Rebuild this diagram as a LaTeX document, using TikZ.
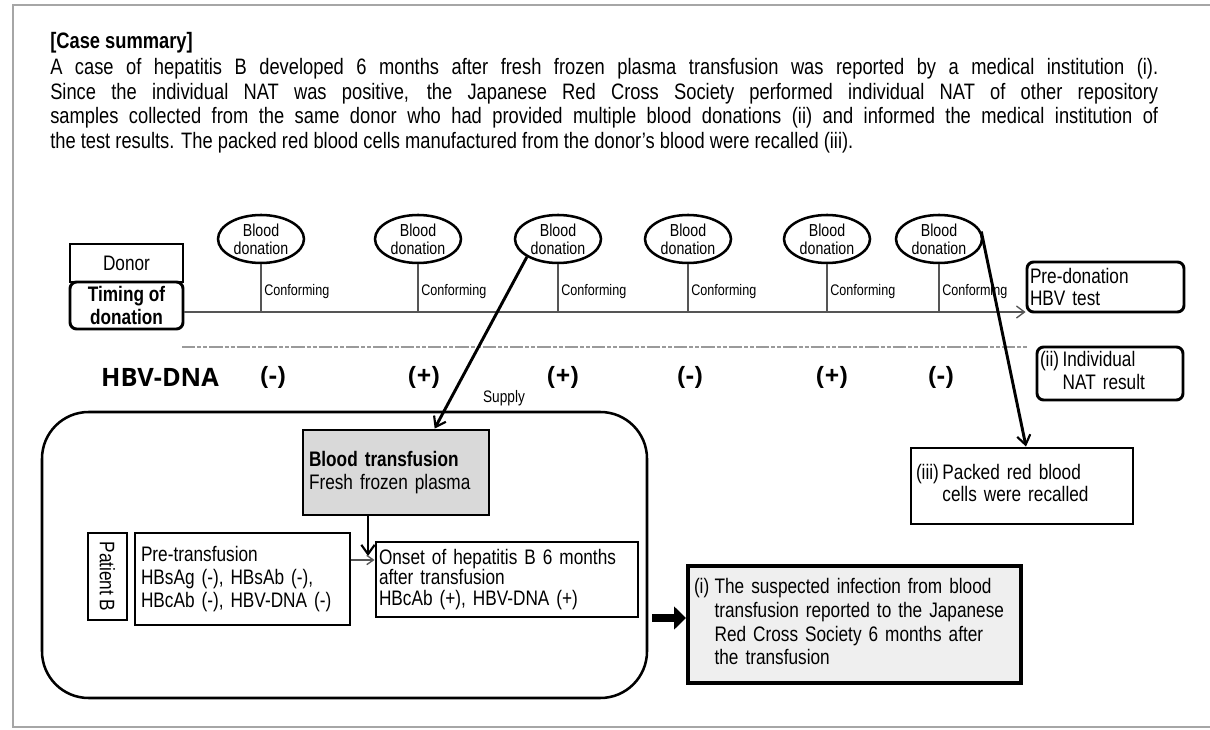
\documentclass[tikz,border=0pt]{standalone}
\usepackage{fontspec}
\setmainfont{Liberation Sans}[FakeStretch=0.82]
\newfontfamily\hbvfont{Open Sans}
\usetikzlibrary{arrows.meta,shapes.geometric,calc}
\newcommand{\pxl}{0.75pt}
\newcommand{\bxf}{\fontsize{15.75}{17}\selectfont}
\newcommand{\paraf}{\fontsize{16.75}{18.5}\selectfont}
\newcommand{\donf}{\fontsize{13}{13.5}\selectfont}
\newcommand{\conff}{\fontsize{11.5}{12}\selectfont}
\definecolor{framegray}{HTML}{A6A6A6}
\definecolor{btgray}{HTML}{D9D9D9}
\definecolor{infogray}{HTML}{EFEFEF}
\definecolor{tlgray}{HTML}{555555}
\definecolor{dashgray}{HTML}{9A9A9A}
\tikzset{
  box/.style={draw, line width=2.2pt, rectangle, inner sep=0pt, font=\bxf},
  rbox/.style={draw, line width=2.2pt, rectangle, rounded corners=5pt, inner sep=0pt, font=\bxf},
  don/.style={ellipse, draw, line width=1.9pt, minimum width=86*\pxl, minimum height=48*\pxl, inner sep=0pt, align=center, font=\donf},
  tick/.style={draw=tlgray, line width=1.1pt},
  conf/.style={anchor=west, inner sep=0pt, font=\conff},
  sign/.style={inner sep=0pt, font=\hbvfont\bfseries\fontsize{19}{20}\selectfont},
  thickarrow/.style={line width=2.2pt, -{Straight Barb[length=7pt,width=10pt,line width=1.6pt]}},
  tlarrow/.style={draw=tlgray, line width=1.1pt, -{Straight Barb[length=6pt,width=9pt,line width=1pt]}},
  bigarrow/.style={line width=6pt, -{Triangle[length=9pt,width=17pt]}},
}
\begin{document}
\begin{tikzpicture}[x=0.75pt,y=-0.75pt]
\useasboundingbox (0,0) rectangle (1210,730);
\fill[white] (0,0) rectangle (1210,730);
\draw[framegray, line width=1.5pt] (1215,5) -- (13,5) -- (13,727) -- (1215,727);

% summary text
\node[anchor=north west, inner sep=0pt, text width=831pt, align=justify, font=\paraf] (summary) at (50,32)
{\textbf{[Case summary]}\\[1pt]
A case of hepatitis B developed 6 months after fresh frozen plasma transfusion was reported by a medical institution (i).\linebreak
Since the individual NAT was positive, the Japanese Red Cross Society performed individual NAT of other repository\linebreak
samples collected from the same donor who had provided multiple blood donations (ii) and informed the medical institution of\linebreak
the test results. The packed red blood cells manufactured from the donor’s blood were recalled (iii).};

% donations
\node[don] (e1) at (261,239) {Blood\\donation};
\node[don] (e2) at (418,239) {Blood\\donation};
\node[don] (e3) at (558,239) {Blood\\donation};
\node[don] (e4) at (688,239) {Blood\\donation};
\node[don] (e5) at (827,239) {Blood\\donation};
\node[don] (e6) at (939,239) {Blood\\donation};

\foreach \i/\x in {1/261,2/418,3/558,4/688,5/827,6/939}{
  \coordinate (t\i) at (\x,311);
  \draw[tick] (e\i.south) -- (t\i);
  \node[conf] (c\i) at (\x+3,292) {Conforming};
}

% donor / timing
\node[box, minimum width=113*\pxl, minimum height=38*\pxl] (donor) at (126.5,263) {Donor};
\node[rbox, minimum width=113*\pxl, minimum height=47*\pxl, align=center, font=\bxf\bfseries] (timing) at (126.5,305.5) {Timing of\\donation};

% pre-donation box
\node[rbox, minimum height=50*\pxl, text width=151*\pxl, inner xsep=3*\pxl, align=left] (pre) at (1105.5,287) {Pre-donation\\HBV test};

% timeline
\coordinate (tls) at ([yshift=-4.9pt]timing.east);
\draw[tlarrow] (tls) -- (tls -| pre.west);

% dashed separator
\draw[dashgray, line width=1.3pt, dash pattern=on 10pt off 1.5pt on 3pt off 1.5pt on 3pt off 1.5pt] (182,347) -- (1027,347);

% HBV-DNA row
\node[sign] (hbv) at (160,377) {HBV-DNA};
\node[sign] (s1) at (273,377) {(-)};
\node[sign] (s2) at (424,377) {(+)};
\node[sign] (s3) at (563,377) {(+)};
\node[sign] (s4) at (690,377) {(-)};
\node[sign] (s5) at (832,377) {(+)};
\node[sign] (s6) at (941,377) {(-)};

% (ii) box
\node[rbox, minimum height=53*\pxl, text width=140*\pxl, inner xsep=3*\pxl, align=left] (nat) at (1110,373.5)
{\begin{tabular}{@{}l@{\,}l@{}}(ii)&Individual\\&NAT result\end{tabular}};

% patient area
\node[draw, line width=1.9pt, rounded corners=35pt, minimum width=605*\pxl, minimum height=286*\pxl] (patient) at (344.5,555) {};

\node[box, fill=btgray, minimum height=85*\pxl, text width=174*\pxl, inner xsep=6*\pxl, align=left] (bt) at (396,472.5)
{\textbf{Blood transfusion}\\Fresh frozen plasma};

\node[box, rotate=-90, minimum width=87*\pxl, minimum height=39*\pxl] (pb) at (107.5,576.5) {Patient B};

\node[box, minimum height=92*\pxl, text width=203*\pxl, inner xsep=6*\pxl, align=left, font=\fontsize{15.75}{17.5}\selectfont] (pret) at (242.5,579)
{Pre-transfusion\\HBsAg (-), HBsAb (-),\\HBcAb (-), HBV-DNA (-)};

\node[box, minimum height=75*\pxl, text width=256*\pxl, inner xsep=3*\pxl, align=left, font=\fontsize{15.75}{15.5}\selectfont] (onset) at (507,579.5)
{Onset of hepatitis B 6 months\\after transfusion\\HBcAb (+), HBV-DNA (+)};

% supply arrow
\draw[thickarrow] (e3.210) -- ([xshift=29pt]bt.north);
\node[inner sep=0pt, font=\fontsize{12.5}{13}\selectfont] (supply) at (504,398) {Supply};

% BT -> onset
\coordinate (bta) at (368,556);
\draw[thickarrow] (bt.south -| bta) -- (bta);
% pre-transfusion -> onset
\coordinate (pa) at (pret.east |- 0,560);
\draw[draw=tlgray, line width=1.1pt, -{Straight Barb[length=5pt,width=7pt,line width=1pt]}] (pa) -- (pa -| onset.west);

% (iii) box
\node[box, minimum height=76*\pxl, text width=212*\pxl, inner xsep=5*\pxl, align=left] (recall) at (1022,486)
{\begin{tabular}{@{}l@{\,}l@{}}(iii)&Packed red blood\\&cells were recalled\end{tabular}};
\draw[thickarrow] (e6.10) -- ([xshift=3pt]recall.north);

% (i) box
\node[box, line width=3pt, fill=infogray, minimum height=117*\pxl, text width=321*\pxl, inner xsep=6*\pxl, align=left] (info) at (854.5,624.5)
{\renewcommand{\arraystretch}{1.05}\begin{tabular}{@{}l@{\hspace{4pt}}l@{}}(i)&The suspected infection from blood\\&transfusion reported to the Japanese\\&Red Cross Society 6 months after\\&the transfusion\end{tabular}};

\coordinate (ba) at (652,618);
\draw[bigarrow] (ba) -- (ba -| info.west);
\end{tikzpicture}
\end{document}
